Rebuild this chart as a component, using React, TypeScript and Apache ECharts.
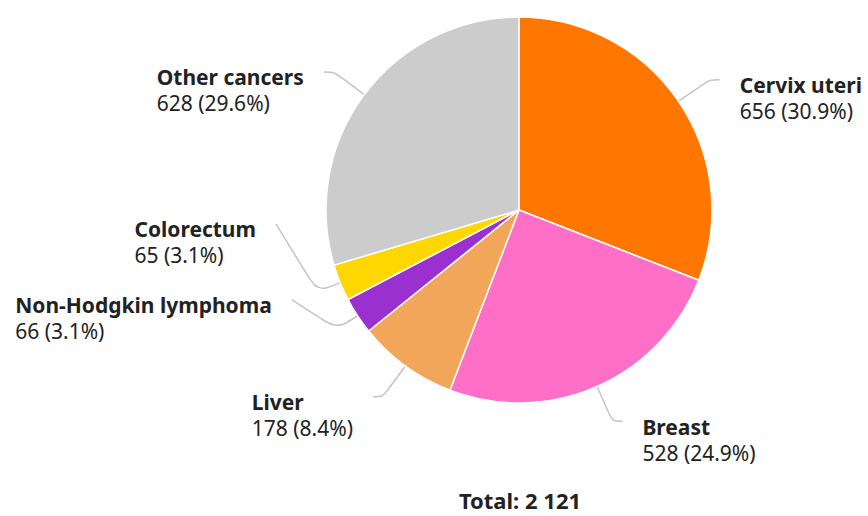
import React, { useEffect, useRef } from "react";
import * as echarts from "echarts";

const categories = ["Cervix uteri", "Breast", "Liver", "Non-Hodgkin lymphoma", "Colorectum", "Other cancers"];
const values = [656, 528, 178, 66, 65, 628];
const percents = ["30.9%", "24.9%", "8.4%", "3.1%", "3.1%", "29.6%"];
const colors = ["#FF7700", "#FF6EC7", "#F2A65A", "#9B30D0", "#FFD700", "#CCCCCC"];
const totalLabel = "Total: 2 121";

const FONT = "'Noto Sans', sans-serif";

// label nudges (dx, dy) for the crowded small slices, like the reference's spread-out labels
const labelShift: Record<number, [number, number]> = { 3: [-24, -37], 4: [-19, -73] };

export default function App() {
  const ref = useRef<HTMLDivElement>(null);
  useEffect(() => {
    if (!ref.current) return;
    const chart = echarts.init(ref.current, undefined, { renderer: "svg" });
    chart.setOption({
      animation: false,
      backgroundColor: "#ffffff",
      graphic: [
        {
          type: "text",
          x: 520,
          y: 500,
          style: {
            text: totalLabel,
            fontFamily: FONT,
            fontSize: 22,
            fontWeight: "bold",
            fill: "#222",
            align: "center",
            verticalAlign: "middle",
          },
        },
      ],
      series: [
        {
          type: "pie",
          center: [519, 210],
          radius: 193,
          startAngle: 90,
          clockwise: true,
          avoidLabelOverlap: false,
          itemStyle: { borderColor: "#ffffff", borderWidth: 1.5 },
          label: {
            show: true,
            position: "outside",
            distanceToLabelLine: 20,
            padding: [37, 0, 0, 0],
            overflow: "none",
            fontFamily: FONT,
            formatter: (p: any) => `{n|${p.name}}\n{v|${p.value} (${percents[p.dataIndex]})}`,
            rich: {
              n: { fontFamily: FONT, fontSize: 21, fontWeight: "bold", color: "#222", lineHeight: 26, align: "left" },
              v: { fontFamily: FONT, fontSize: 21, color: "#222", lineHeight: 26, align: "left" },
            },
          },
          labelLine: {
            show: true,
            length: 38,
            length2: 10,
            smooth: 0.3,
            lineStyle: { color: "#c4c4c4", width: 1.5 },
          },
          labelLayout: (params: any) => {
            const s = labelShift[params.dataIndex];
            if (!s) return {};
            const pts = params.labelLinePoints;
            if (!pts || pts.length < 3) return { dx: s[0], dy: s[1] };
            const k = 0.65;
            const p0 = pts[0];
            const p1 = [p0[0] + k * (pts[1][0] - p0[0]), p0[1] + k * (pts[1][1] - p0[1])];
            const p2 = [pts[2][0] + s[0], pts[2][1] + s[1]];
            return { dx: s[0], dy: s[1], labelLinePoints: [p0, p1, p2] };
          },
          data: categories.map((c, i) => ({ name: c, value: values[i], itemStyle: { color: colors[i] } })),
        },
      ],
    });
    return () => chart.dispose();
  }, []);
  return <div ref={ref} style={{ position: "absolute", left: 0, top: 0, width: 868, height: 516 }} />;
}
